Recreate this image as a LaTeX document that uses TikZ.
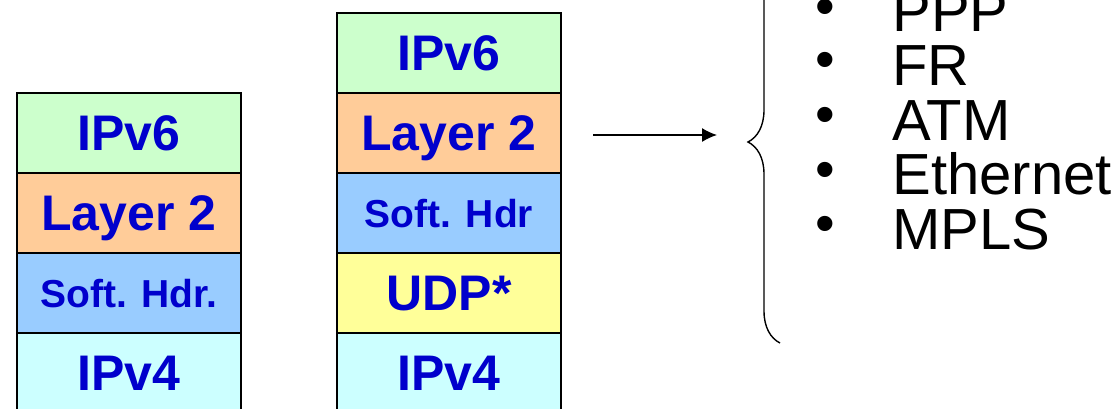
\documentclass[tikz,border=0pt]{standalone}
\usepackage{fontspec}
\setmainfont{Liberation Sans}
\usetikzlibrary{arrows.meta,decorations.pathreplacing}

\definecolor{vsixgreen}{HTML}{CCFFCC}
\definecolor{ltwoorange}{HTML}{FFCC99}
\definecolor{softblue}{HTML}{99CCFF}
\definecolor{udpyellow}{HTML}{FFFF99}
\definecolor{vfourcyan}{HTML}{CCFFFF}
\definecolor{hdrtext}{HTML}{0000CC}

\tikzset{
  layer/.style={draw=black, line width=1pt, minimum width=112pt, minimum height=40pt,
    inner sep=0pt, outer sep=0pt, text=hdrtext, font=\bfseries\fontsize{25}{25}\selectfont,
    text height=17.9pt, text depth=0pt},
  smalllayer/.style={layer, font=\bfseries\fontsize{19.5}{19.5}\selectfont, text height=14pt},
  linkitem/.style={anchor=base west, inner sep=0pt, font=\fontsize{29}{29}\selectfont},
  linkdot/.style={inner sep=0pt, font=\fontsize{28}{28}\selectfont}
}

\begin{document}
\begin{tikzpicture}[x=0.5pt, y=-0.5pt]
\useasboundingbox (0,0) rectangle (1120,408);

% left stack
\node[layer, fill=vsixgreen] (lsix) at (129,133) {IPv6};
\node[layer, fill=ltwoorange] (ltwo) at (129,213) {Layer 2};
\node[smalllayer, fill=softblue] (lsoft) at (129,293) {Soft. Hdr.};
\node[layer, fill=vfourcyan] (lfour) at (129,373) {IPv4};

% middle stack
\node[layer, fill=vsixgreen] (msix) at (449,53) {IPv6};
\node[layer, fill=ltwoorange] (mtwo) at (449,133) {Layer 2};
\node[smalllayer, fill=softblue] (msoft) at (449,213) {Soft. Hdr};
\node[layer, fill=udpyellow] (mudp) at (449,293) {UDP*};
\node[layer, fill=vfourcyan] (mfour) at (449,373) {IPv4};

\coordinate (arrstart) at (593,135);
\coordinate (arrend) at (717,135);
\draw[line width=0.7pt, -{Latex[length=7.5pt,width=7pt]}] (arrstart) -- (arrend);

\coordinate (bracelow) at (780,343);
\coordinate (bracehigh) at (780,-59);
\draw[line width=0.7pt, decorate, decoration={brace, amplitude=16pt}] (bracelow) -- (bracehigh);

\node[linkdot] (dppp) at (825,12.7) {\textbullet};
\node[linkitem] (ppp) at (892,31) {PPP};
\node[linkdot] (dfr) at (825,65.7) {\textbullet};
\node[linkitem] (fr) at (892,85.5) {FR};
\node[linkdot] (datm) at (825,120.7) {\textbullet};
\node[linkitem] (atm) at (892,140) {ATM};
\node[linkdot] (deth) at (825,175.7) {\textbullet};
\node[linkitem] (eth) at (892,194.5) {Ethernet};
\node[linkdot] (dmpls) at (825,229.3) {\textbullet};
\node[linkitem] (mpls) at (892,249) {MPLS};
\end{tikzpicture}
\end{document}
